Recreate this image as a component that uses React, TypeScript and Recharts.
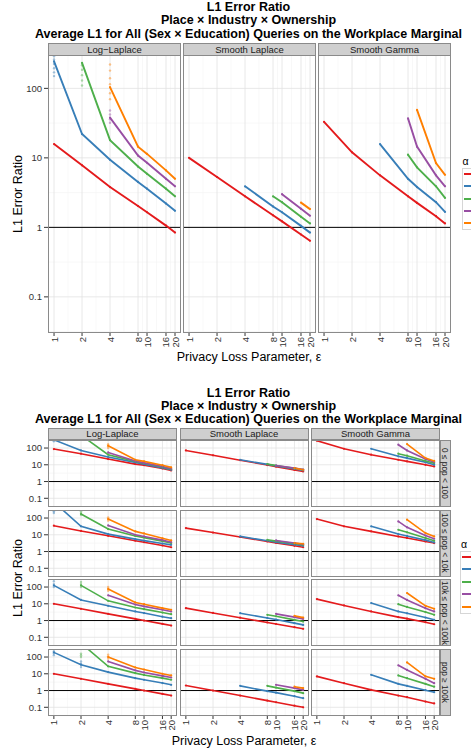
import React from "react"
import { ComposedChart, Line, Scatter, XAxis, YAxis, CartesianGrid, ReferenceLine } from "recharts"

type V = number | null

const FONT = '"Liberation Sans", Arial, Helvetica, sans-serif'

const EPS = [1, 2, 4, 8, 10, 16, 20]
const Y_TICKS = [0.1, 1, 10, 100]
const X_MINOR = [1.414, 2.828, 5.657, 8.944, 12.65, 17.89]
const Y_MINOR = [0.0316, 0.316, 3.16, 31.6]
const X_DOMAIN = [0.861, 23.2]
const Y_DOMAIN = [0.0302, 302]

const ALPHA_COLORS = ["#E41A1C", "#377EB8", "#4DAF4A", "#984EA3", "#FF7F00"]
const MECH_TOP = ["Log\u2212Laplace", "Smooth Laplace", "Smooth Gamma"]
const MECH_BOTTOM = ["Log-Laplace", "Smooth Laplace", "Smooth Gamma"]
const POP_GROUPS = ["0 \u2264 pop < 100", "100 \u2264 pop < 10k", "10k \u2264 pop < 100k", "pop \u2265 100k"]
const TITLE_LINES = [
    "L1 Error Ratio",
    "Place \u00d7 Industry \u00d7 Ownership",
    "Average L1 for All (Sex \u00d7 Education) Queries on the Workplace Marginal"
]

// one row per alpha (red, blue, green, purple, orange), one value per epsilon
const topLL: V[][] = [
    [15.8, 7.8, 3.8, 2.03, 1.65, 1.06, 0.84],
    [245, 22, 9.4, 4.5, 3.6, 2.2, 1.73],
    [null, 233, 18, 7.5, 5.9, 3.6, 2.8],
    [null, null, 38, 10.8, 8.5, 5.0, 3.9],
    [null, null, 104, 14.5, 11.4, 6.6, 5.0]
]
const topSL: V[][] = [
    [10, 5.3, 2.8, 1.49, 1.22, 0.79, 0.64],
    [null, null, 3.9, 2.0, 1.65, 1.05, 0.84],
    [null, null, null, 2.8, 2.3, 1.42, 1.14],
    [null, null, null, null, 3.0, 1.85, 1.47],
    [null, null, null, null, null, 2.27, 1.83]
]
const topSG: V[][] = [
    [33, 12, 5.6, 2.8, 2.25, 1.45, 1.14],
    [null, null, 15.8, 5.0, 3.8, 2.3, 1.67],
    [null, null, null, 11.1, 7.3, 3.9, 2.65],
    [null, null, null, 37, 14.5, 5.6, 3.9],
    [null, null, null, null, 49, 8.4, 5.7]
]

const botLL0: V[][] = [
    [87, 46, 22, 11, 9.5, 6, 4.6],
    [310, 72, 29, 14, 11, 6.5, 5],
    [null, 590, 40, 16, 12.5, 7.5, 5.5],
    [null, null, 55, 17, 13, 8, 5.8],
    [null, null, 138, 20, 16, 9.5, 7]
]
const botLL1: V[][] = [
    [35, 17, 8.7, 4.4, 3.6, 2.3, 1.8],
    [900, 32, 11, 5.5, 4.5, 3.0, 2.5],
    [null, 174, 22, 8.5, 6.8, 4.2, 3.2],
    [null, null, 36, 10, 8, 4.8, 3.6],
    [null, null, 87, 16, 12, 6.2, 4.6]
]
const botLL2: V[][] = [
    [10, 5, 2.5, 1.26, 1.0, 0.63, 0.5],
    [126, 17, 7.6, 3.5, 2.8, 1.7, 1.38],
    [null, 126, 15, 6, 4.8, 3.0, 2.4],
    [null, null, 32, 9, 7, 4.4, 3.5],
    [null, null, 76, 12, 9.5, 5.5, 4.4]
]
const botLL3: V[][] = [
    [10, 5, 2.5, 1.26, 1.0, 0.63, 0.5],
    [190, 35, 12.6, 5.5, 4.4, 2.8, 2.2],
    [null, 670, 28, 11, 8.5, 5.5, 4.4],
    [null, null, 55, 16, 12, 7.5, 6],
    [null, null, 100, 24, 18, 10, 8]
]
const botSL0: V[][] = [
    [72, 36.8, 18.8, 9.6, 7.8, 4.9, 4.0],
    [null, null, 20, 10.6, 8.6, 5.6, 4.6],
    [null, null, null, 11, 9.1, 6.1, 5],
    [null, null, null, null, 9, 6.3, 5.2],
    [null, null, null, null, null, 6.3, 5]
]
const botSL1: V[][] = [
    [25, 13.6, 7.4, 4.0, 3.3, 2.2, 1.8],
    [null, null, 8, 4.4, 3.6, 2.6, 2.2],
    [null, null, null, 5, 4.2, 3.0, 2.5],
    [null, null, null, null, 4.6, 3.2, 2.7],
    [null, null, null, null, null, 3.2, 2.9]
]
const botSL2: V[][] = [
    [5.5, 2.85, 1.48, 0.77, 0.62, 0.40, 0.32],
    [null, null, 2.75, 1.43, 1.15, 0.7, 0.55],
    [null, null, null, 2.2, 1.8, 1.1, 0.87],
    [null, null, null, null, 2.5, 1.6, 1.26],
    [null, null, null, null, null, 1.9, 1.5]
]
const botSL3: V[][] = [
    [2, 1, 0.5, 0.25, 0.2, 0.125, 0.1],
    [null, null, 1.9, 0.92, 0.75, 0.46, 0.35],
    [null, null, null, 1.9, 1.5, 0.92, 0.7],
    [null, null, null, null, 2.2, 1.4, 1.1],
    [null, null, null, null, null, 1.7, 1.4]
]
const botSG0: V[][] = [
    [275, 91, 40, 20, 16, 10, 8],
    [null, null, 91, 32, 25, 14, 10],
    [null, null, null, 46, 35, 17, 12.6],
    [null, null, null, 158, 72, 22, 14.5],
    [null, null, null, null, 174, 25, 17]
]
const botSG1: V[][] = [
    [87, 32, 16, 8, 6.5, 4, 3.2],
    [null, null, 32, 11, 8.5, 4.8, 3.5],
    [null, null, null, 20, 14, 6.5, 4.4],
    [null, null, null, 63, 28, 9, 5.8],
    [null, null, null, null, 80, 12.6, 8]
]
const botSG2: V[][] = [
    [19, 8, 3.5, 1.6, 1.3, 0.8, 0.6],
    [null, null, 11, 3.5, 2.7, 1.5, 1.1],
    [null, null, null, 9.5, 6.5, 3.2, 2.2],
    [null, null, null, 32, 17, 5.5, 3.5],
    [null, null, null, null, 44, 7.6, 5]
]
const botSG3: V[][] = [
    [7, 2.75, 1.1, 0.5, 0.4, 0.22, 0.17],
    [null, null, 8.7, 2.5, 1.9, 1.05, 0.8],
    [null, null, null, 8, 5.5, 2.5, 1.7],
    [null, null, null, 32, 17, 5, 2.75],
    [null, null, null, null, 48, 7, 5]
]

// replicate spread at the first epsilon of a series: [eps, value, alpha index]
const topLLSpread = [
    [1, 150, 1], [1, 170, 1], [1, 195, 1], [1, 225, 1], [1, 260, 1], [1, 290, 1],
    [2, 110, 2], [2, 130, 2], [2, 155, 2], [2, 185, 2], [2, 215, 2],
    [4, 70, 4], [4, 85, 4], [4, 115, 4], [4, 140, 4], [4, 180, 4], [4, 220, 4],
    [4, 32, 3], [4, 36, 3], [4, 42, 3], [4, 48, 3]
]
const botLLSpread0 = [[1, 250, 1], [1, 290, 1], [4, 100, 4], [4, 130, 4], [4, 170, 4]]
const botLLSpread1 = [[1, 200, 1], [1, 250, 1], [1, 290, 1], [2, 150, 2], [2, 200, 2], [2, 250, 2], [4, 70, 4], [4, 90, 4], [4, 110, 4]]
const botLLSpread2 = [[1, 100, 1], [1, 150, 1], [1, 220, 1], [2, 100, 2], [2, 150, 2], [2, 200, 2], [4, 60, 4], [4, 80, 4], [4, 100, 4]]
const botLLSpread3 = [[1, 130, 1], [1, 170, 1], [1, 220, 1], [2, 25, 1], [2, 40, 1], [2, 55, 1], [2, 100, 2], [2, 130, 2], [2, 160, 2], [4, 80, 4], [4, 110, 4], [4, 140, 4]]

const toPts = (vals: V[]) =>
    EPS.map((e, i) => ({ eps: e, v: vals[i] })).filter((p) => p.v !== null)

function RotTick(props: any) {
    const { x, y, payload } = props
    return (
        <text
            x={x}
            y={y}
            transform={`rotate(-90 ${x} ${y})`}
            textAnchor="end"
            dominantBaseline="central"
            fontSize={9.5}
            fill="#333"
        >
            {payload.value}
        </text>
    )
}

type FacetProps = {
    rows: V[][]
    spread?: number[][]
    left: number
    top: number
    w: number
    h: number
    showX: boolean
    showY: boolean
    lw: number
}

function Facet({ rows, spread, left, top, w, h, showX, showY, lw }: FacetProps) {
    const yw = showY ? 48 : 0
    const xh = showX ? 22 : 0
    const spreadPts = (spread || []).map((s) => ({ eps: s[0], v: s[1], a: s[2] }))
    return (
        <div style={{ position: "absolute", left: left - yw, top }}>
            <ComposedChart width={w + yw} height={h + xh} margin={{ top: 0, right: 0, bottom: 0, left: 0 }}>
                {/* minor then major grid */}
                <CartesianGrid horizontalValues={Y_MINOR} verticalValues={X_MINOR} stroke="#f3f3f3" strokeWidth={0.6} />
                <CartesianGrid horizontalValues={Y_TICKS} verticalValues={EPS} stroke="#e2e2e2" strokeWidth={0.8} />
                <XAxis
                    type="number"
                    dataKey="eps"
                    scale="log"
                    domain={X_DOMAIN}
                    ticks={EPS}
                    interval={0}
                    allowDataOverflow
                    hide={!showX}
                    height={xh}
                    axisLine={false}
                    tickSize={3}
                    tickMargin={1}
                    tickLine={{ stroke: "#333" }}
                    tick={<RotTick />}
                />
                <YAxis
                    type="number"
                    dataKey="v"
                    scale="log"
                    domain={Y_DOMAIN}
                    ticks={Y_TICKS}
                    interval={0}
                    allowDataOverflow
                    hide={!showY}
                    width={yw}
                    axisLine={false}
                    tickSize={4}
                    tickMargin={2}
                    tickLine={{ stroke: "#333" }}
                    tick={{ fontSize: 9.5, fill: "#333" }}
                    tickFormatter={(v: number) => String(v)}
                />
                <ReferenceLine y={1} stroke="#000" strokeWidth={1} />
                {spreadPts.length > 0 && (
                    <Scatter
                        data={spreadPts}
                        dataKey="v"
                        isAnimationActive={false}
                        shape={(p: any) => (
                            <circle cx={p.cx} cy={p.cy} r={1.2} fill={ALPHA_COLORS[p.payload.a]} fillOpacity={0.45} />
                        )}
                    />
                )}
                {rows.map((vals, i) => (
                    <Line
                        key={i}
                        data={toPts(vals)}
                        dataKey="v"
                        type="linear"
                        stroke={ALPHA_COLORS[i]}
                        strokeWidth={lw}
                        dot={{ r: 1.1, fill: ALPHA_COLORS[i], stroke: "none" }}
                        activeDot={false}
                        isAnimationActive={false}
                    />
                ))}
            </ComposedChart>
            <div
                style={{
                    position: "absolute",
                    left: yw,
                    top: 0,
                    width: w,
                    height: h,
                    border: "1px solid #8a8a8a",
                    boxSizing: "border-box",
                    pointerEvents: "none"
                }}
            />
        </div>
    )
}

function Strip({ label, left, top, w, h }: { label: string; left: number; top: number; w: number; h: number }) {
    return (
        <div
            style={{
                position: "absolute",
                left,
                top,
                width: w,
                height: h,
                background: "#cfcfcf",
                border: "1px solid #8a8a8a",
                boxSizing: "border-box",
                fontSize: 9.5,
                color: "#1a1a1a",
                display: "flex",
                alignItems: "center",
                justifyContent: "center",
                whiteSpace: "nowrap"
            }}
        >
            {label}
        </div>
    )
}

function RowStrip({ label, left, top, w, h }: { label: string; left: number; top: number; w: number; h: number }) {
    return (
        <div
            style={{
                position: "absolute",
                left,
                top,
                width: w,
                height: h,
                background: "#cfcfcf",
                border: "1px solid #8a8a8a",
                boxSizing: "border-box",
                fontSize: 8.3,
                color: "#1a1a1a",
                display: "flex",
                alignItems: "center",
                justifyContent: "center",
                writingMode: "vertical-rl",
                whiteSpace: "nowrap"
            }}
        >
            {label}
        </div>
    )
}

function Titles({ top, lh }: { top: number; lh: number }) {
    return (
        <div
            style={{
                position: "absolute",
                left: 0,
                top,
                width: 497,
                textAlign: "center",
                fontWeight: "bold",
                fontSize: 12.5,
                lineHeight: lh + "px",
                color: "#000",
                whiteSpace: "nowrap"
            }}
        >
            {TITLE_LINES.map((t) => (
                <div key={t}>{t}</div>
            ))}
        </div>
    )
}

function YTitle({ cy }: { cy: number }) {
    return (
        <div
            style={{
                position: "absolute",
                left: 18,
                top: cy,
                transform: "translate(-50%, -50%) rotate(-90deg)",
                fontSize: 12.5,
                whiteSpace: "nowrap",
                color: "#000"
            }}
        >
            L1 Error Ratio
        </div>
    )
}

function XTitle({ cx, cy }: { cx: number; cy: number }) {
    return (
        <div
            style={{
                position: "absolute",
                left: cx,
                top: cy,
                transform: "translate(-50%, -50%)",
                fontSize: 12.5,
                whiteSpace: "nowrap",
                color: "#000"
            }}
        >
            Privacy Loss Parameter, {"\u03b5"}
        </div>
    )
}

function AlphaLegend({ left, top, titleTop, step }: { left: number; top: number; titleTop: number; step: number }) {
    return (
        <>
            <div style={{ position: "absolute", left: left + 1, top: titleTop - 7, fontSize: 10.5, color: "#000" }}>
                {"\u03b1"}
            </div>
            <div
                style={{
                    position: "absolute",
                    left,
                    top,
                    width: 40,
                    height: step * 5 + 1,
                    border: "1px solid #d6d6d6",
                    boxSizing: "border-box"
                }}
            >
                {ALPHA_COLORS.map((c, i) => (
                    <div
                        key={c}
                        style={{
                            position: "absolute",
                            left: 1,
                            top: 4 + i * step,
                            width: 30,
                            height: 2,
                            background: c
                        }}
                    />
                ))}
            </div>
        </>
    )
}

const TOP_LEFTS = [48, 183, 318]
const BOT_LEFTS = [48, 179.5, 311]
const BOT_TOPS = [440, 509.5, 579, 649]

export default function App() {
    const topPanels = [topLL, topSL, topSG]
    const botPanels = [
        [botLL0, botLL1, botLL2, botLL3],
        [botSL0, botSL1, botSL2, botSL3],
        [botSG0, botSG1, botSG2, botSG3]
    ]
    const botSpreads = [botLLSpread0, botLLSpread1, botLLSpread2, botLLSpread3]

    return (
        <div
            style={{
                position: "fixed",
                left: 0,
                top: 0,
                width: 471,
                height: 752,
                overflow: "hidden",
                background: "#fff",
                fontFamily: FONT
            }}
        >
            {/* upper figure */}
            <Titles top={0.7} lh={13.4} />
            {topPanels.map((rows, c) => (
                <React.Fragment key={"t" + c}>
                    <Strip label={MECH_TOP[c]} left={TOP_LEFTS[c]} top={43} w={133} h={12.5} />
                    <Facet
                        rows={rows}
                        spread={c === 0 ? topLLSpread : undefined}
                        left={TOP_LEFTS[c]}
                        top={55}
                        w={133}
                        h={278}
                        showX={true}
                        showY={c === 0}
                        lw={1.9}
                    />
                </React.Fragment>
            ))}
            <YTitle cy={194} />
            <XTitle cx={249} cy={357} />
            <AlphaLegend left={461.5} top={168} titleTop={162} step={12.25} />

            {/* lower figure */}
            <Titles top={387.3} lh={12.8} />
            {botPanels.map((col, c) => (
                <React.Fragment key={"b" + c}>
                    <Strip label={MECH_BOTTOM[c]} left={BOT_LEFTS[c]} top={427.5} w={129} h={12.5} />
                    {col.map((rows, r) => (
                        <Facet
                            key={r}
                            rows={rows}
                            spread={c === 0 ? botSpreads[r] : undefined}
                            left={BOT_LEFTS[c]}
                            top={BOT_TOPS[r]}
                            w={129}
                            h={67}
                            showX={r === 3}
                            showY={c === 0}
                            lw={1.6}
                        />
                    ))}
                </React.Fragment>
            ))}
            {POP_GROUPS.map((g, r) => (
                <RowStrip key={g} label={g} left={440} top={BOT_TOPS[r]} w={10.5} h={67} />
            ))}
            <YTitle cy={578} />
            <XTitle cx={244} cy={741} />
            <AlphaLegend left={460} top={551} titleTop={545} step={12.4} />
        </div>
    )
}
